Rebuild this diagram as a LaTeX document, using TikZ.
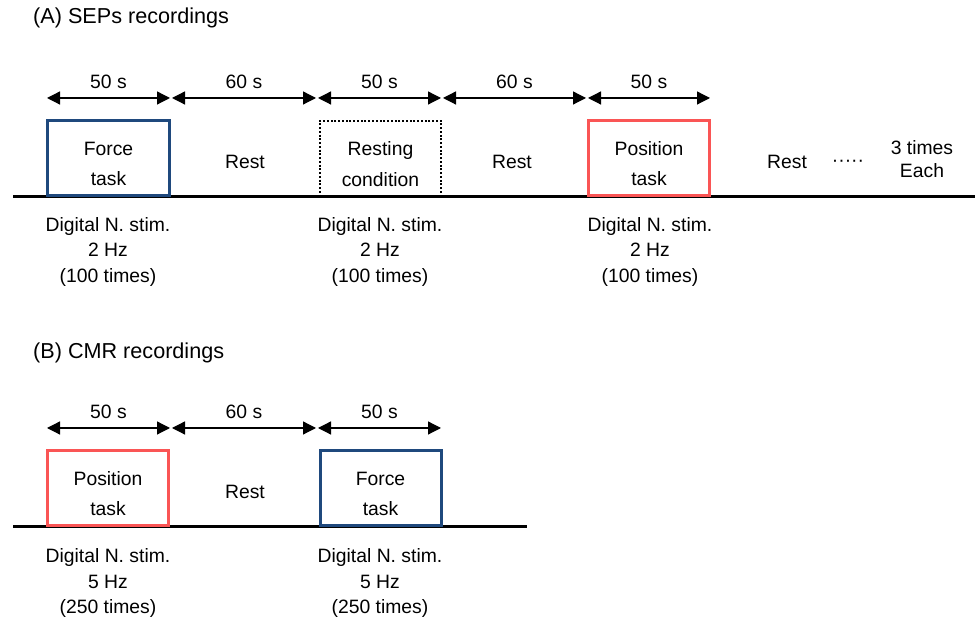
\documentclass[tikz,border=0pt]{standalone}
\usepackage{fontspec}
\setmainfont{Liberation Sans}
\usetikzlibrary{arrows.meta,positioning}

\definecolor{forceblue}{RGB}{31,73,125}
\definecolor{posred}{RGB}{250,85,85}
\newcommand{\tskstrut}{\rule{0pt}{5mm}}

\begin{document}
\begin{tikzpicture}[
  x=0.2mm, y=-0.2mm,
  task/.style={rectangle, draw, line width=0.6mm, minimum width=24.2mm, minimum height=15mm, align=center, inner sep=0pt, anchor=south, font=\fontsize{11}{17.5}\selectfont},
  dur/.style={{Triangle[length=2.6mm,width=2.6mm]}-{Triangle[length=2.6mm,width=2.6mm]}, line width=0.25mm},
  durlabel/.style={midway, above=0.6mm, font=\fontsize{11}{13}\selectfont},
  stim/.style={align=center, font=\fontsize{11}{14.3}\selectfont},
  txt/.style={align=center, font=\fontsize{11}{13}\selectfont},
  base/.style={line width=0.6mm},
  title/.style={anchor=west, font=\fontsize{12.3}{15}\selectfont}
]
\useasboundingbox (0,0) rectangle (975,619);

% (A) SEPs recordings
\node[title] (titleA) at (27,18) {(A) SEPs recordings};

% Time marks
\coordinate (a0) at (47,98);
\coordinate (a1) at (170,98);
\coordinate (a2) at (172,98);
\coordinate (a3) at (316,98);
\coordinate (a4) at (318,98);
\coordinate (a5) at (441,98);
\coordinate (a6) at (443,98);
\coordinate (a7) at (586,98);
\coordinate (a8) at (588,98);
\coordinate (a9) at (710,98);

% Durations
\draw[dur] (a0) -- (a1) node[durlabel] {50 s};
\draw[dur] (a2) -- (a3) node[durlabel] {60 s};
\draw[dur] (a4) -- (a5) node[durlabel] {50 s};
\draw[dur] (a6) -- (a7) node[durlabel] {60 s};
\draw[dur] (a8) -- (a9) node[durlabel] {50 s};

% Baseline
\coordinate (la) at (13,197);
\coordinate (ra) at (975,197);
\draw[base] (la) -- (ra);

% Blocks
\node[task, draw=forceblue] (forceA) at (108.5,197) {\tskstrut Force\\task};
\node[task, draw=black, line width=0.4mm, densely dotted] (restcond) at (380.5,197) {\tskstrut Resting\\condition};
\node[task, draw=posred] (posA) at (649,197) {\tskstrut Position\\task};

\node[txt] (restA1) at (245,162) {Rest};
\node[txt] (restA2) at (512,162) {Rest};
\node[txt] (restA3) at (787,162) {Rest};
\node[txt] (dotsA) at (848,163) {·····};
\node[txt] (repeat) at (922,159) {3 times\\Each};

% Stimulation
\node[stim] (stimA1) at (108,252) {Digital N. stim.\\2 Hz\\(100 times)};
\node[stim] (stimA2) at (380,252) {Digital N. stim.\\2 Hz\\(100 times)};
\node[stim] (stimA3) at (650,252) {Digital N. stim.\\2 Hz\\(100 times)};

% (B) CMR recordings
\node[title] (titleB) at (27,353) {(B) CMR recordings};

\coordinate (b0) at (47,428);
\coordinate (b1) at (170,428);
\coordinate (b2) at (172,428);
\coordinate (b3) at (316,428);
\coordinate (b4) at (318,428);
\coordinate (b5) at (441,428);

\draw[dur] (b0) -- (b1) node[durlabel] {50 s};
\draw[dur] (b2) -- (b3) node[durlabel] {60 s};
\draw[dur] (b4) -- (b5) node[durlabel] {50 s};

\coordinate (lb) at (13,527);
\coordinate (rb) at (527,527);
\draw[base] (lb) -- (rb);

\node[task, draw=posred] (posB) at (108,527) {\tskstrut Position\\task};
\node[task, draw=forceblue] (forceB) at (380.5,527) {\tskstrut Force\\task};
\node[txt] (restB) at (245,492) {Rest};

\node[stim] (stimB1) at (108,583) {Digital N. stim.\\5 Hz\\(250 times)};
\node[stim] (stimB2) at (380,583) {Digital N. stim.\\5 Hz\\(250 times)};

\end{tikzpicture}
\end{document}
